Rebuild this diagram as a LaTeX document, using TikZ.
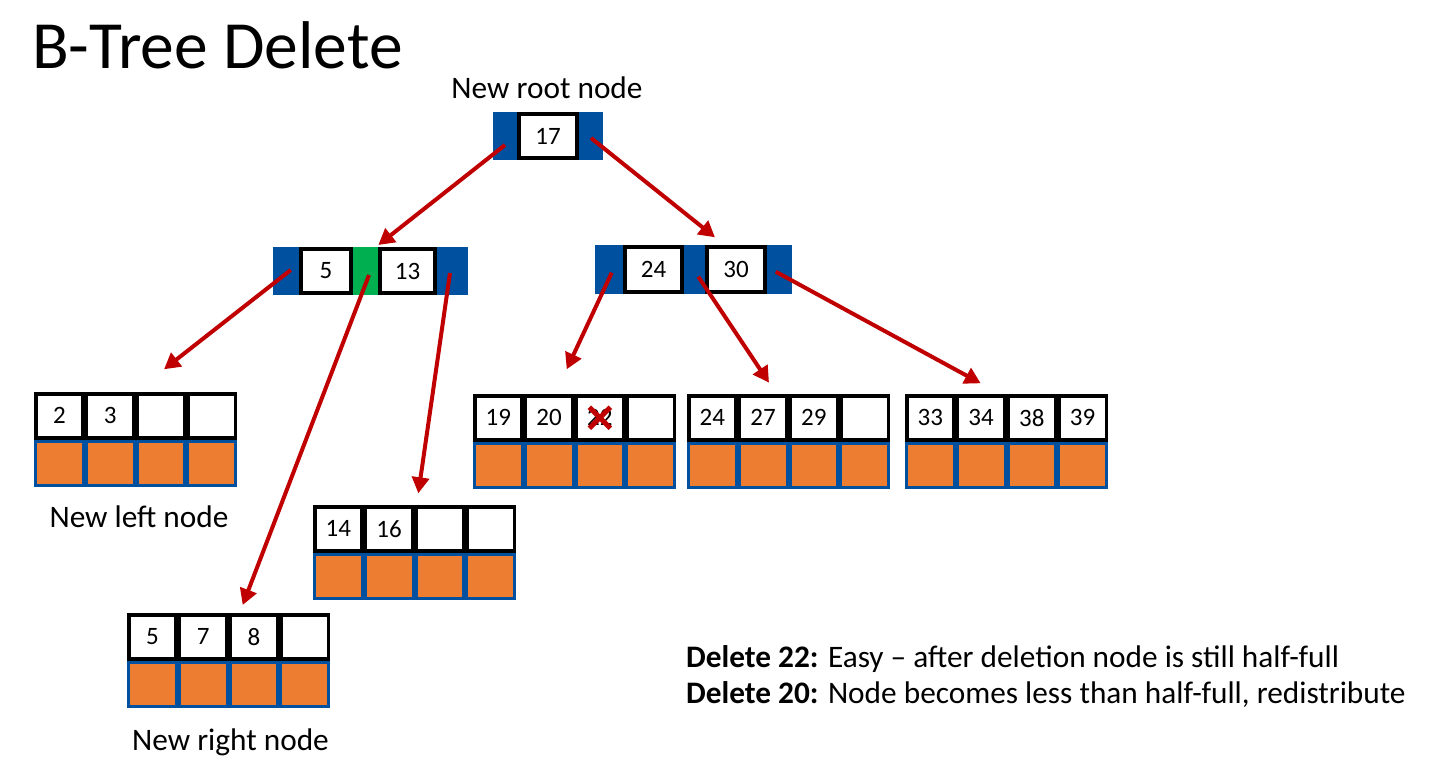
\documentclass[tikz,border=0pt]{standalone}
\usepackage{fontspec}
\setmainfont{Carlito}
\usetikzlibrary{arrows.meta}
\definecolor{nodeblue}{RGB}{0,80,160}
\definecolor{nodeorange}{RGB}{237,125,49}
\definecolor{nodegreen}{RGB}{0,176,80}
\definecolor{arrowred}{RGB}{192,0,0}
\newcommand\numfont{\fontsize{25}{29}\selectfont}
\newcommand\labfont{\fontsize{31.3}{37}\selectfont}
\newcommand\ttlfont{\fontsize{67.5}{80}\selectfont}
\tikzset{
  tcell/.style={draw=black, line width=3.5pt, fill=white, minimum width=47.25pt, minimum height=44pt, inner sep=0pt, outer sep=0pt, font=\numfont},
  bcell/.style={draw=nodeblue, fill=nodeorange, line width=3pt, minimum width=47.75pt, minimum height=44.5pt, inner sep=0pt, outer sep=0pt},
  keybox/.style={draw=black, line width=4pt, fill=white, inner sep=0pt, outer sep=0pt, font=\numfont},
  bluepart/.style={fill=nodeblue, inner sep=0pt, outer sep=0pt},
  greenpart/.style={fill=nodegreen, inner sep=0pt, outer sep=0pt},
  link/.style={draw=arrowred, line width=4pt, -{Triangle[length=16pt,width=17pt]}},
  lab/.style={inner sep=0pt, font=\labfont, anchor=base}
}
\newcommand\leafnode[7]{%
  \node[tcell] (#1t1) at (#2+25.375,#3+23.75) {#4};
  \node[tcell] (#1t2) at (#2+76.125,#3+23.75) {#5};
  \node[tcell] (#1t3) at (#2+126.875,#3+23.75) {#6};
  \node[tcell] (#1t4) at (#2+177.625,#3+23.75) {#7};
  \node[bcell] (#1b1) at (#2+25.375,#3+71.25) {};
  \node[bcell] (#1b2) at (#2+76.125,#3+71.25) {};
  \node[bcell] (#1b3) at (#2+126.875,#3+71.25) {};
  \node[bcell] (#1b4) at (#2+177.625,#3+71.25) {};
}
\begin{document}
\begin{tikzpicture}[x=1pt,y=-1pt]
\useasboundingbox (0,0) rectangle (1437,768);

% title and labels
\node[inner sep=0pt, font=\ttlfont, anchor=base west] (title) at (32,68) {B-Tree Delete};
\node[lab] (rootlab) at (547,99) {New root node};
\node[lab] (leftlab) at (139,527) {New left node};
\node[lab] (rightlab) at (230.5,750) {New right node};
\node[inner sep=0pt, font=\labfont, anchor=base west] (line1) at (686,667) {\textbf{Delete 22:} Easy -- after deletion node is still half-full};
\node[inner sep=0pt, font=\labfont, anchor=base west] (line2) at (686,703) {\textbf{Delete 20:} Node becomes less than half-full, redistribute};

% root node
\node[bluepart, minimum width=24pt, minimum height=48pt] (rootL) at (505,136) {};
\node[keybox, minimum width=58pt, minimum height=44pt] (rootK) at (548,136) {17};
\node[bluepart, minimum width=24pt, minimum height=48pt] (rootR) at (591,136) {};

% internal node 5 | 13
\node[bluepart, minimum width=26pt, minimum height=48pt] (aL) at (286,271) {};
\node[keybox, minimum width=50pt, minimum height=44pt] (aK1) at (326,271) {5};
\node[greenpart, minimum width=25pt, minimum height=48pt] (aM) at (365.5,271) {};
\node[keybox, minimum width=55pt, minimum height=44pt] (aK2) at (407.5,271) {13};
\node[bluepart, minimum width=31pt, minimum height=48pt] (aR) at (452.5,271) {};

% internal node 24 | 30
\node[bluepart, minimum width=28pt, minimum height=49pt] (bL) at (609,269.5) {};
\node[keybox, minimum width=57pt, minimum height=45pt] (bK1) at (653.5,269.5) {24};
\node[bluepart, minimum width=21pt, minimum height=49pt] (bM) at (694.5,269.5) {};
\node[keybox, minimum width=58pt, minimum height=45pt] (bK2) at (736,269.5) {30};
\node[bluepart, minimum width=25pt, minimum height=49pt] (bR) at (779.5,269.5) {};

% leaves
\leafnode{la}{34}{392}{2}{3}{}{}
\leafnode{lb}{313}{505}{14}{16}{}{}
\leafnode{lc}{127}{613}{5}{7}{8}{}
\leafnode{ld}{473}{394}{19}{20}{22}{}
\leafnode{le}{687}{394}{24}{27}{29}{}
\leafnode{lf}{905}{394}{33}{34}{38}{39}

% deletion cross
\draw[arrowred, line width=5pt] ([xshift=-10.5pt,yshift=10.5pt]ldt3.center) -- ([xshift=10.5pt,yshift=-10.5pt]ldt3.center);
\draw[arrowred, line width=5pt] ([xshift=-10.5pt,yshift=-10.5pt]ldt3.center) -- ([xshift=10.5pt,yshift=10.5pt]ldt3.center);

% arrow tips
\coordinate (tipA) at (378.3,245);
\coordinate (tipB) at (715,237.3);
\coordinate (tipLA) at (164,369.3);
\coordinate (tipLC) at (242.7,605);
\coordinate (tipLB) at (418.3,493.3);
\coordinate (tipLD) at (566.7,369.3);
\coordinate (tipLE) at (769,382.7);
\coordinate (tipLF) at (980.7,383.3);

% connectors
\draw[link] ([yshift=-9pt]rootL.center) -- (tipA);
\draw[link] ([yshift=-2pt]rootR.center) -- (tipB);
\draw[link] ([xshift=4.7pt,yshift=1pt]aL.center) -- (tipLA);
\draw[link] ([xshift=3.5pt,yshift=-4pt]aM.center) -- (tipLC);
\draw[link] ([xshift=-2.5pt,yshift=-2pt]aR.center) -- (tipLB);
\draw[link] ([xshift=2.7pt,yshift=-3.2pt]bL.center) -- (tipLD);
\draw[link] ([xshift=3.8pt,yshift=-7.2pt]bM.center) -- (tipLE);
\draw[link] ([xshift=-3.8pt,yshift=-2.2pt]bR.center) -- (tipLF);
\end{tikzpicture}
\end{document}
